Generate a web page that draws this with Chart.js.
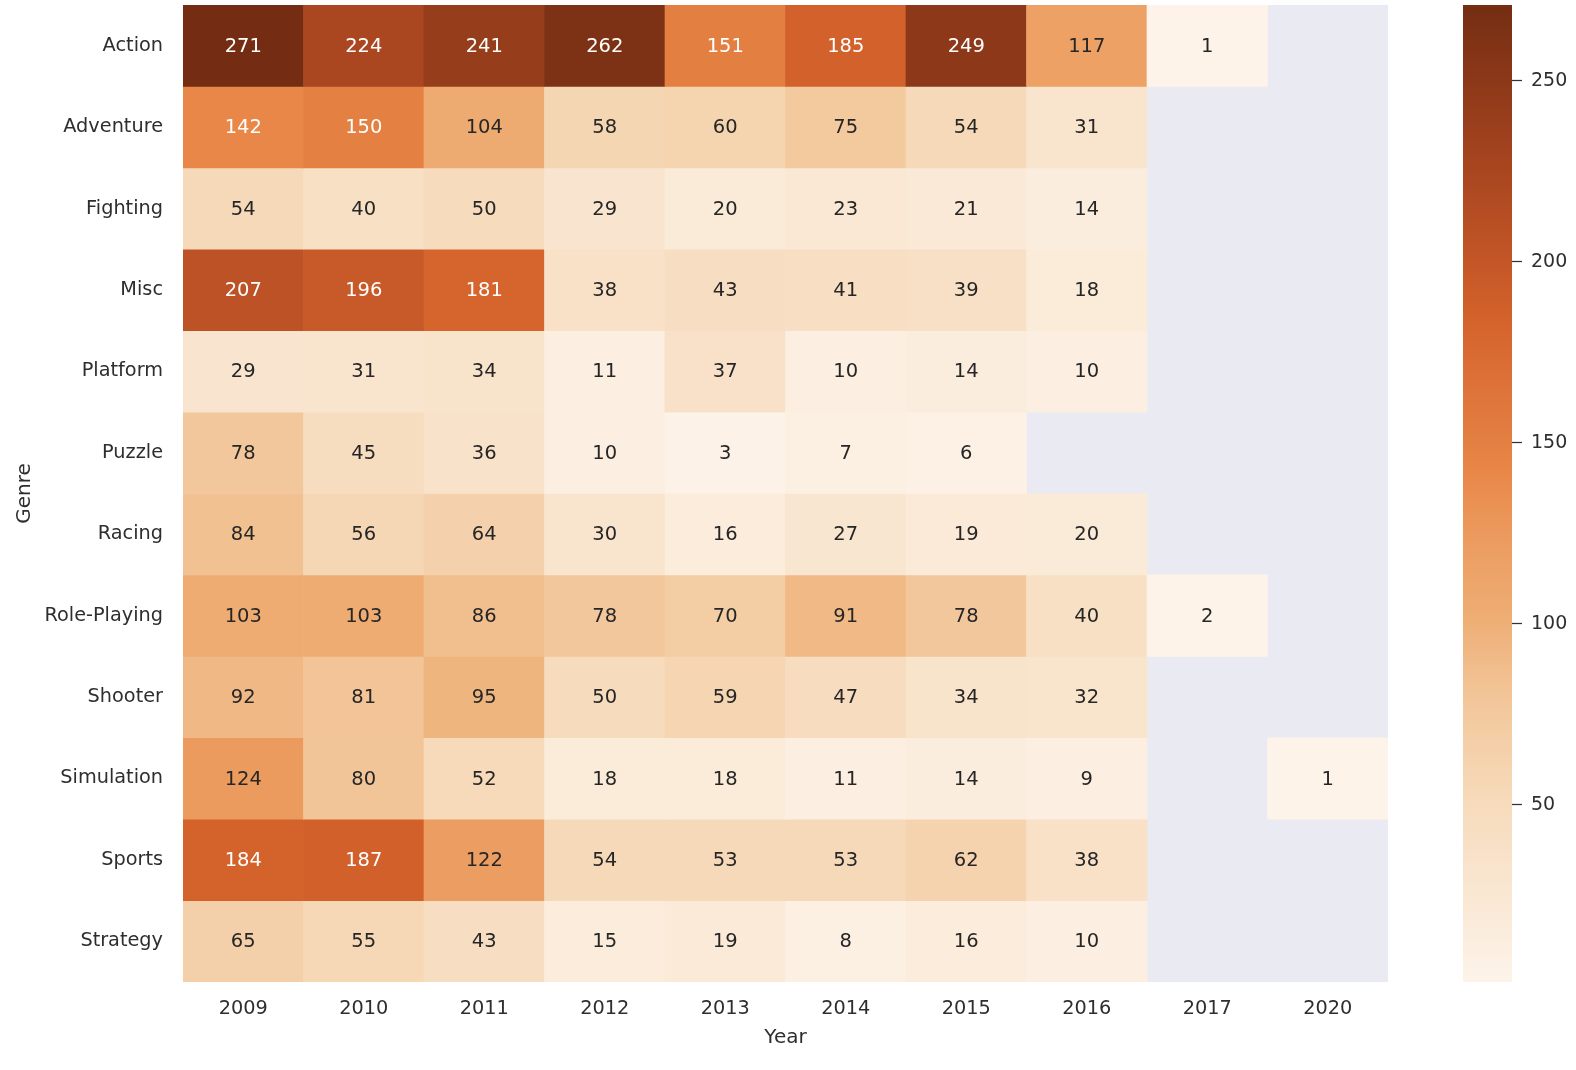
<!DOCTYPE html>
<html>
<head>
<meta charset="utf-8">
<script src="https://cdn.jsdelivr.net/npm/chart.js@4"></script>
<style>
  body { margin: 0; background: #fff; }
  #wrap { position: relative; width: 1576px; height: 1070px; }
  #heat { position: absolute; left: 0; top: 0; }
  #cbar { position: absolute; left: 1448px; top: 0; }
</style>
</head>
<body>
<div id="wrap">
  <canvas id="heat" width="1388" height="1070"></canvas>
  <canvas id="cbar" width="128" height="1070"></canvas>
</div>
<script>
var years = ["2009", "2010", "2011", "2012", "2013", "2014", "2015", "2016", "2017", "2020"];
var genres = ["Action", "Adventure", "Fighting", "Misc", "Platform", "Puzzle", "Racing",
              "Role-Playing", "Shooter", "Simulation", "Sports", "Strategy"];

// counts per genre, one value per year (null = no games)
var action      = [271, 224, 241, 262, 151, 185, 249, 117, 1, null];
var adventure   = [142, 150, 104, 58, 60, 75, 54, 31, null, null];
var fighting    = [54, 40, 50, 29, 20, 23, 21, 14, null, null];
var misc        = [207, 196, 181, 38, 43, 41, 39, 18, null, null];
var platform    = [29, 31, 34, 11, 37, 10, 14, 10, null, null];
var puzzle      = [78, 45, 36, 10, 3, 7, 6, null, null, null];
var racing      = [84, 56, 64, 30, 16, 27, 19, 20, null, null];
var rolePlaying = [103, 103, 86, 78, 70, 91, 78, 40, 2, null];
var shooter     = [92, 81, 95, 50, 59, 47, 34, 32, null, null];
var simulation  = [124, 80, 52, 18, 18, 11, 14, 9, null, 1];
var sports      = [184, 187, 122, 54, 53, 53, 62, 38, null, null];
var strategy    = [65, 55, 43, 15, 19, 8, 16, 10, null, null];

var cbarTicks = [50, 100, 150, 200, 250];

var counts = [action, adventure, fighting, misc, platform, puzzle, racing,
              rolePlaying, shooter, simulation, sports, strategy];

var vmin = 1, vmax = 271;

// colour ramp (Oranges-like), t from 0 to 1
var ramp = [
  [0.000, 253, 243, 233],
  [0.189, 246, 218, 186],
  [0.293, 242, 197, 152],
  [0.378, 238, 172, 114],
  [0.456, 236, 155, 95],
  [0.522, 232, 135, 72],
  [0.678, 212, 98, 43],
  [0.826, 170, 70, 32],
  [1.000, 116, 45, 18]
];

function rampColor(t) {
  t = Math.max(0, Math.min(1, t));
  for (var i = 1; i < ramp.length; i++) {
    if (t <= ramp[i][0]) {
      var a = ramp[i - 1], b = ramp[i];
      var f = (t - a[0]) / (b[0] - a[0]);
      var r = Math.round(a[1] + (b[1] - a[1]) * f);
      var g = Math.round(a[2] + (b[2] - a[2]) * f);
      var bl = Math.round(a[3] + (b[3] - a[3]) * f);
      return "rgb(" + r + "," + g + "," + bl + ")";
    }
  }
  return "rgb(116,45,18)";
}

function valueColor(v) {
  return rampColor((v - vmin) / (vmax - vmin));
}

var font = "'DejaVu Sans', sans-serif";
var textColor = "#2e2e2e";

// no extra room for the end tick labels, the cells go right to the edges
function noPad(scale) {
  scale.paddingTop = 0;
  scale.paddingBottom = 0;
  scale.paddingLeft = 0;
  scale.paddingRight = 0;
}

var datasets = [];
for (var i = 0; i < genres.length; i++) {
  datasets.push({
    label: genres[i],
    data: counts[i].map(function (v) { return v == null ? null : [this.row, this.row + 1]; }, { row: i }),
    backgroundColor: function (ctx) {
      var v = counts[ctx.datasetIndex][ctx.dataIndex];
      return v == null ? "rgba(0,0,0,0)" : valueColor(v);
    },
    borderWidth: 0,
    barPercentage: 1,
    categoryPercentage: 1,
    grouped: false
  });
}

var bgPlugin = {
  id: "bg",
  beforeDatasetsDraw: function (chart) {
    var a = chart.chartArea, c = chart.ctx;
    c.save();
    c.fillStyle = "#eaeaf2";
    c.fillRect(a.left, a.top, a.right - a.left, a.bottom - a.top);
    c.restore();
  }
};

var annotPlugin = {
  id: "annot",
  afterDatasetsDraw: function (chart) {
    var c = chart.ctx;
    c.save();
    c.font = "19.5px " + font;
    c.textAlign = "center";
    c.textBaseline = "middle";
    chart.data.datasets.forEach(function (ds, di) {
      var meta = chart.getDatasetMeta(di);
      meta.data.forEach(function (el, j) {
        var v = counts[di][j];
        if (v == null) return;
        var p = el.getCenterPoint();
        c.fillStyle = v > 135 ? "#ffffff" : "#262626";
        c.fillText(String(v), p.x, p.y + 1);
      });
    });
    c.restore();
  }
};

var heat = new Chart(document.getElementById("heat"), {
  type: "bar",
  data: { labels: years, datasets: datasets },
  plugins: [bgPlugin, annotPlugin],
  options: {
    responsive: false,
    animation: false,
    layout: { padding: { top: 5, left: 13, right: 0, bottom: 20 } },
    plugins: { legend: { display: false }, tooltip: { enabled: false } },
    scales: {
      x: {
        type: "category",
        offset: true,
        grid: { display: false, drawTicks: false },
        border: { display: false },
        ticks: { color: textColor, font: { family: font, size: 19.3 }, padding: 15, maxRotation: 0 },
        title: { display: true, text: "Year", color: textColor, font: { family: font, size: 20 }, padding: { top: 2, bottom: 0 } },
        afterFit: function (scale) { scale.height = 68; noPad(scale); }
      },
      y: {
        type: "linear",
        min: 0,
        max: 12,
        reverse: true,
        grid: { display: false, drawTicks: false },
        border: { display: false },
        afterBuildTicks: function (scale) {
          scale.ticks = genres.map(function (g, i) { return { value: i + 0.5 }; });
        },
        ticks: {
          color: textColor,
          font: { family: font, size: 19.3 },
          padding: 20,
          autoSkip: false,
          callback: function (value, index) { return genres[index]; }
        },
        title: { display: true, text: "Genre", color: textColor, font: { family: font, size: 20 }, padding: { top: 0, bottom: 0 } },
        afterFit: function (scale) { scale.width = 170; noPad(scale); }
      }
    }
  }
});

var cbar = new Chart(document.getElementById("cbar"), {
  type: "bar",
  data: {
    labels: [""],
    datasets: [{
      data: [[vmin, vmax]],
      borderWidth: 0,
      barPercentage: 1,
      categoryPercentage: 1,
      backgroundColor: function (ctx) {
        var area = ctx.chart.chartArea;
        if (!area) return "#ccc";
        var g = ctx.chart.ctx.createLinearGradient(0, area.bottom, 0, area.top);
        for (var k = 0; k <= 40; k++) {
          g.addColorStop(k / 40, rampColor(k / 40));
        }
        return g;
      }
    }]
  },
  options: {
    responsive: false,
    animation: false,
    layout: { padding: { top: 5, left: 15, right: 0, bottom: 88 } },
    plugins: { legend: { display: false }, tooltip: { enabled: false } },
    scales: {
      x: { display: false },
      y: {
        type: "linear",
        position: "right",
        min: vmin,
        max: vmax,
        afterBuildTicks: function (scale) {
          scale.ticks = cbarTicks.map(function (v) { return { value: v }; });
        },
        grid: { drawOnChartArea: false, drawTicks: true, tickLength: 10, color: "#333333", tickWidth: 1.25 },
        border: { display: false },
        ticks: { color: textColor, font: { family: font, size: 19 }, padding: 9 },
        afterFit: function (scale) { scale.width = 64; noPad(scale); }
      }
    }
  }
});
</script>
</body>
</html>
